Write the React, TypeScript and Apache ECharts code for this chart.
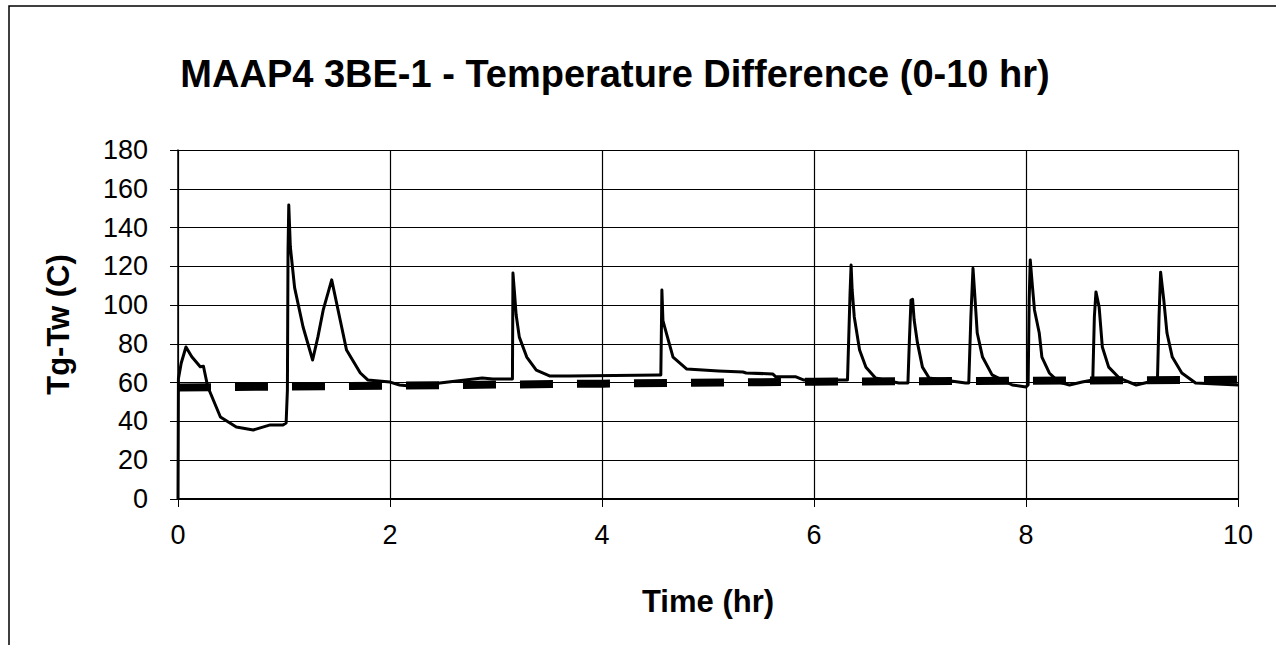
import React, { useEffect, useRef } from "react";
import * as echarts from "echarts";

const titleText = "MAAP4 3BE-1 - Temperature Difference (0-10 hr)";
const xAxisTitle = "Time (hr)";
const yAxisTitle = "Tg-Tw (C)";

// Solid curve: time (hr) and temperature difference (C)
const timeHr = [
  0, 0.004, 0.03, 0.075, 0.13, 0.21, 0.24, 0.28, 0.4, 0.55, 0.71, 0.87, 0.99, 1.02,
  1.032, 1.038, 1.045, 1.06, 1.1, 1.18, 1.27, 1.32, 1.37, 1.45, 1.53, 1.59, 1.72, 1.79,
  2.0, 2.09, 2.28, 2.47, 2.87, 2.97, 3.155, 3.16, 3.175, 3.19, 3.22, 3.29, 3.38, 3.51,
  3.69, 4.54, 4.555, 4.565, 4.575, 4.6, 4.67, 4.8, 5.1, 5.33, 5.36, 5.61, 5.64, 5.83,
  5.9, 6.2, 6.316, 6.34, 6.35, 6.36, 6.38, 6.43, 6.49, 6.58, 6.8, 6.886, 6.9, 6.915,
  6.93, 6.945, 6.976, 7.023, 7.086, 7.43, 7.46, 7.48, 7.5, 7.52, 7.54, 7.59, 7.68, 7.87,
  8.0, 8.02, 8.03, 8.04, 8.06, 8.08, 8.125, 8.15, 8.22, 8.31, 8.41, 8.53, 8.63, 8.645,
  8.66, 8.69, 8.72, 8.78, 8.88, 9.04, 9.24, 9.255, 9.27, 9.3, 9.33, 9.38, 9.47, 9.6, 10.0,
];
const tempDiff = [
  0, 62, 70, 78.4, 73.4, 68.2, 68.5, 58, 42.3, 37.1, 35.6, 38.2, 38.2, 39.2,
  56, 128, 151.6, 130, 109, 88.7, 71.7, 83.6, 97.5, 113, 92.3, 76.8, 65, 61.4,
  60.3, 58.8, 57.8, 59.8, 62.4, 61.9, 61.9, 116.5, 106, 95, 83.5, 73.2, 66.5, 63.4,
  63.4, 64, 64, 107.8, 92, 87, 73.2, 67, 66, 65.5, 65, 64.5, 63, 63,
  61.4, 61.4, 61.4, 106, 120.7, 107.8, 93.9, 76.8, 68, 62.4, 59.8, 59.8, 82, 102.6,
  103, 92.3, 80.5, 68, 62.4, 59.8, 59.8, 94, 119, 102.6, 85.6, 73.2, 64, 58.8,
  57.8, 58.8, 102.6, 123.3, 110, 97.5, 85.6, 73.2, 65, 60.3, 58.8, 60.3, 61.4, 94,
  106.8, 99, 78.4, 68, 62.4, 58.8, 61.4, 94, 117, 102.6, 85.6, 73.2, 65, 59.8, 58.8,
];

// Thick dashed reference curve
const refTimeHr = [0, 2, 4, 6, 8, 10];
const refTempDiff = [57.5, 58.5, 59.5, 60.5, 61, 61.5];

const xTicks = { min: 0, max: 10, interval: 2 };
const yTicks = { min: 0, max: 180, interval: 20 };

const FONT = "'Liberation Sans', Arial, sans-serif";

export default function App() {
  const ref = useRef<HTMLDivElement>(null);
  useEffect(() => {
    if (!ref.current) return;
    const chart = echarts.init(ref.current, undefined, { renderer: "svg" });
    const mainData = timeHr.map((t, i) => [t, tempDiff[i]]);
    const refData = refTimeHr.map((t, i) => [t, refTempDiff[i]]);
    chart.setOption({
      animation: false,
      backgroundColor: "#ffffff",
      textStyle: { fontFamily: FONT },
      title: {
        text: titleText,
        left: 610,
        top: 50,
        textAlign: "center",
        textStyle: { fontFamily: FONT, fontSize: 38, fontWeight: "bold", color: "#000" },
      },
      graphic: [
        {
          type: "rect",
          shape: { x: 9, y: 6, width: 1400, height: 800 },
          style: { fill: "none", stroke: "#000", lineWidth: 1.5 },
          silent: true,
        },
      ],
      grid: { left: 178, right: 38, top: 150, bottom: 146, containLabel: false },
      xAxis: {
        type: "value",
        min: xTicks.min,
        max: xTicks.max,
        interval: xTicks.interval,
        name: xAxisTitle,
        nameLocation: "middle",
        nameGap: 87,
        nameTextStyle: { fontFamily: FONT, fontSize: 31, fontWeight: "bold", color: "#000" },
        axisLine: { show: true, lineStyle: { color: "#000", width: 2 } },
        axisTick: { show: true, length: 8, lineStyle: { color: "#000", width: 1 } },
        axisLabel: { margin: 22, fontSize: 27, color: "#000", fontFamily: FONT },
        splitLine: { show: true, lineStyle: { color: "#000", width: 1.2 } },
      },
      yAxis: {
        type: "value",
        min: yTicks.min,
        max: yTicks.max,
        interval: yTicks.interval,
        name: yAxisTitle,
        nameLocation: "middle",
        nameGap: 104,
        nameTextStyle: { fontFamily: FONT, fontSize: 31, fontWeight: "bold", color: "#000" },
        axisLine: { show: true, lineStyle: { color: "#000", width: 1.5 } },
        axisTick: { show: true, length: 8, lineStyle: { color: "#000", width: 1 } },
        axisLabel: { margin: 30, fontSize: 27, color: "#000", fontFamily: FONT },
        splitLine: { show: true, lineStyle: { color: "#000", width: 1.2 } },
      },
      series: [
        {
          type: "line",
          data: refData,
          showSymbol: false,
          symbol: "none",
          lineStyle: { color: "#000", width: 8, type: [33, 24], cap: "butt" },
          z: 2,
        },
        {
          type: "line",
          data: mainData,
          showSymbol: false,
          symbol: "none",
          lineStyle: { color: "#000", width: 3, join: "round" },
          z: 3,
        },
      ],
    });
    return () => chart.dispose();
  }, []);
  return (
    <div
      ref={ref}
      style={{ position: "fixed", left: 0, top: 0, width: 1276, height: 645, background: "#fff" }}
    />
  );
}
